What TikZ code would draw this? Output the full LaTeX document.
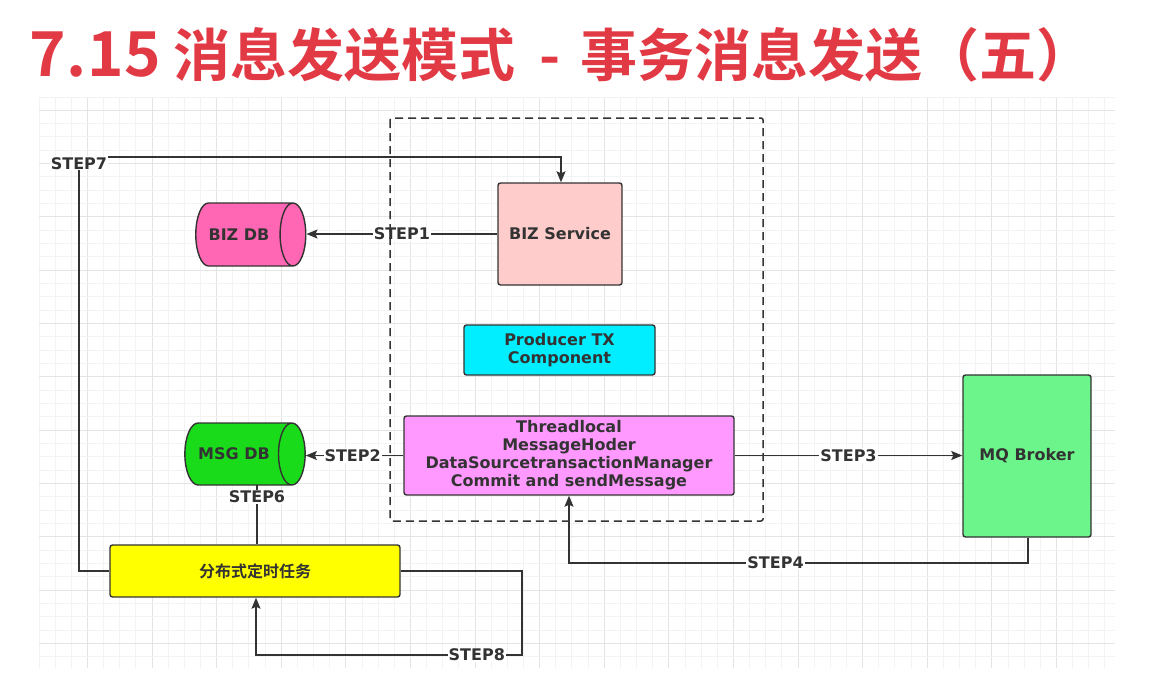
\documentclass[tikz,border=0pt]{standalone}
\usepackage{fontspec}
\setmainfont{DejaVu Sans}
\newfontfamily\cjk{Noto Sans CJK SC}[BoldFont={Noto Sans CJK SC Bold}]
\usetikzlibrary{shapes.geometric,arrows.meta,calc}
\definecolor{titlered}{RGB}{226,58,68}
\definecolor{ink}{RGB}{51,51,51}
\definecolor{gridminor}{RGB}{243,243,243}
\definecolor{gridmajor}{RGB}{228,228,228}
\definecolor{bizfill}{RGB}{255,204,204}
\definecolor{bizdbfill}{RGB}{255,102,179}
\definecolor{prodfill}{RGB}{0,238,255}
\definecolor{tlfill}{RGB}{255,153,255}
\definecolor{msgfill}{RGB}{26,219,26}
\definecolor{mqfill}{RGB}{108,245,138}
\definecolor{jobfill}{RGB}{255,255,0}
\tikzset{
  txt/.style={font=\bfseries\fontsize{16}{18}\selectfont},
  box/.style={draw=ink, line width=1.4pt, rounded corners=2.5pt, text=ink,
    txt, align=center, inner sep=0pt},
  cyl/.style={cylinder, draw=ink, line width=1.4pt, text=ink, shape aspect=2.2,
    txt, inner sep=0pt},
  conn/.style={draw=ink, line width=1.4pt},
  arr/.style={conn, -{Stealth[length=11pt,width=9pt,inset=2pt]}},
  lbl/.style={fill=white, text=ink, inner sep=1pt, txt}
}
\begin{document}
\begin{tikzpicture}[x=1pt,y=-1pt]
\useasboundingbox (0,0) rectangle (1151,680);
\fill[white] (0,0) rectangle (1151,680);
% grid
\foreach \i in {0,...,66} {
  \pgfmathsetmacro{\xx}{39+16.15*\i}
  \pgfmathtruncatemacro{\m}{mod(\i,4)}
  \ifnum\m=3 \draw[gridmajor, line width=1pt] (\xx,97) -- (\xx,668);
  \else \draw[gridminor, line width=1pt] (\xx,97) -- (\xx,668); \fi
}
\foreach \j in {0,...,42} {
  \pgfmathsetmacro{\yy}{97+13.33*\j}
  \pgfmathtruncatemacro{\m}{mod(\j,4)}
  \ifnum\m=1 \draw[gridmajor, line width=1pt] (39,\yy) -- (1115,\yy);
  \else \draw[gridminor, line width=1pt] (39,\yy) -- (1115,\yy); \fi
}
% title
\node[anchor=west, text=titlered, inner sep=0pt, font=\cjk\bfseries\fontsize{57}{60}\selectfont] (title) at (29,55) {{\fontsize{62}{64}\selectfont 7\hspace{1pt}.\hspace{1pt}15}\hspace{12pt}消息发送模式\hspace{24pt}-\hspace{20pt}事务消息发送（五）};
% nodes
\node[box, fill=bizfill, minimum width=124pt, minimum height=102pt] (biz) at (560,234) {BIZ Service};
\node[cyl, fill=bizdbfill, minimum width=63pt, minimum height=100pt] (bizdb) at (244,234.5) {BIZ DB\hspace*{10pt}};
\node[box, fill=prodfill, minimum width=191pt, minimum height=50pt] (prod) at (559.5,350) {Producer TX\\Component};
\node[box, fill=tlfill, minimum width=330pt, minimum height=79pt] (tl) at (569,455.5) {Threadlocal\\MessageHoder\\DataSourcetransactionManager\\Commit and sendMessage};
\node[cyl, fill=msgfill, minimum width=62pt, minimum height=92pt] (msgdb) at (238,454) {MSG DB\hspace*{8pt}};
\node[box, fill=mqfill, minimum width=128pt, minimum height=162pt] (mq) at (1027,456) {MQ Broker};
\node[box, fill=jobfill, minimum width=290pt, minimum height=52pt, font=\cjk\bfseries\fontsize{16}{18}\selectfont] (job) at (255,571) {分布式定时任务};
% connector corners
\coordinate (c7a) at (79,571);
\coordinate (c7b) at (79,157);
\coordinate (c7c) at (561,157);
\coordinate (c4a) at (1028,563);
\coordinate (c4b) at (569,563);
\coordinate (c8a) at (522,571);
\coordinate (c8b) at (522,655);
\coordinate (c8c) at (256,655);
% connectors
\draw[arr] (biz.west) -- node[lbl, pos=0.5] {STEP1} (bizdb.east |- biz.west);
\draw[arr] (tl.west) -- node[lbl, pos=0.52] {STEP2} (msgdb.east |- tl.west);
\draw[arr] (tl.east) -- node[lbl, pos=0.5] {STEP3} (mq.west |- tl.east);
\draw[arr] (mq.south -| c4a) -- (c4a) -- node[lbl, pos=0.55] {STEP4} (c4b) -- (tl.south -| c4b);
\draw[conn] (job.north -| 257,0) -- node[lbl, pos=0.8] {STEP6} (257,485);
\draw[arr] (job.west) -- (c7a) -- node[lbl, pos=0.985] {STEP7} (c7b) -- (c7c) -- (biz.north -| c7c);
\draw[arr] (job.east) -- (c8a) -- (c8b) -- node[lbl, pos=0.17] {STEP8} (c8c) -- (job.south -| c8c);
% dashed frame
\draw[ink, line width=1.5pt, dash pattern=on 8pt off 5pt, rounded corners=2pt] (390,118) rectangle (763,521);
\end{tikzpicture}
\end{document}
